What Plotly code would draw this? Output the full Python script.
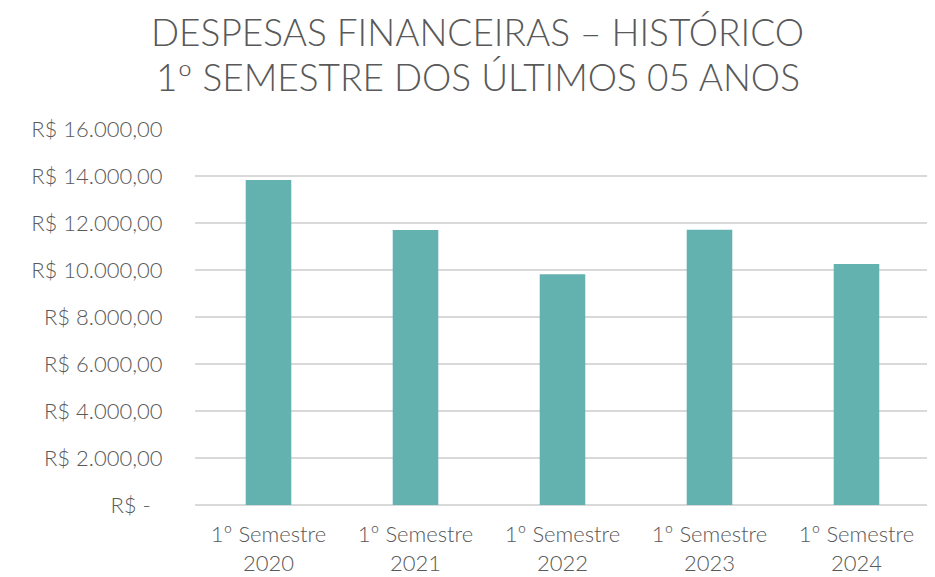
import plotly.graph_objects as go

categories = ["1º Semestre<br>2020", "1º Semestre<br>2021", "1º Semestre<br>2022",
              "1º Semestre<br>2023", "1º Semestre<br>2024"]
values = [13830, 11700, 9815, 11710, 10260]
tick_vals = [0, 2000, 4000, 6000, 8000, 10000, 12000, 14000, 16000]
tick_text = ["R$ -\u00a0\u00a0", "R$ 2.000,00", "R$ 4.000,00", "R$ 6.000,00", "R$ 8.000,00",
             "R$ 10.000,00", "R$ 12.000,00", "R$ 14.000,00", "R$ 16.000,00"]
title_lines = ["DESPESAS FINANCEIRAS – HISTÓRICO", "1º SEMESTRE DOS ÚLTIMOS 05 ANOS"]

FONT = "Lato"
GREY = "#595959"

fig = go.Figure(go.Bar(x=categories, y=values, marker_color="#64B2B0",
                       marker_line_width=0))

fig.update_layout(
    width=935, height=577,
    paper_bgcolor="white", plot_bgcolor="white",
    margin=dict(l=187, r=13, t=121, b=80),
    bargap=0.69,
    showlegend=False,
    font=dict(family=FONT, color=GREY, weight=300),
)
for i, (line, yy) in enumerate(zip(title_lines, [1.2606, 1.1383])):
    fig.add_annotation(text=line, xref="paper", yref="paper", x=0.385, y=yy,
                       xanchor="center", yanchor="middle", showarrow=False,
                       borderpad=0,
                       font=dict(family=FONT, size=37, color=GREY, weight=300))

fig.update_yaxes(range=[0, 16000], tickvals=tick_vals, ticktext=tick_text,
                 automargin=False,
                 showgrid=True, gridcolor="#D9D9D9", gridwidth=1.5,
                 zeroline=True, zerolinecolor="#D9D9D9", zerolinewidth=1.5,
                 showline=False, ticks="outside", ticklen=27, tickcolor="rgba(0,0,0,0)",
                 tickfont=dict(family=FONT, size=22, color=GREY, weight=300))
fig.update_xaxes(automargin=False, showline=False, ticks="outside", ticklen=10,
                 tickcolor="rgba(0,0,0,0)", showgrid=False,
                 tickfont=dict(family=FONT, size=22, color=GREY, weight=300))

fig.write_html("out.html")
